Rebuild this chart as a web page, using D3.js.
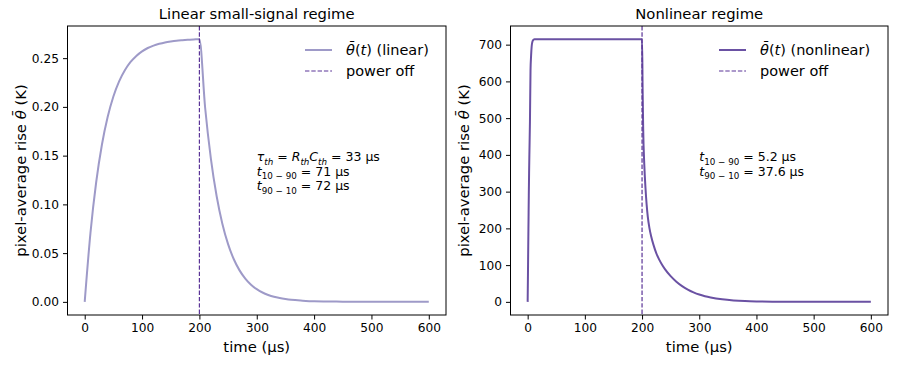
<!DOCTYPE html>
<html>
<head>
<meta charset="utf-8">
<script src="https://cdn.jsdelivr.net/npm/d3@7"></script>
<style>
  body { margin: 0; background: #fff; }
  svg { font-family: "DejaVu Sans", sans-serif; }
</style>
</head>
<body>
<svg id="chart" width="897" height="365"></svg>
<script>
// time samples (us) and pixel-average rise
const timeLin = [0, 10, 20, 30, 40, 50, 60, 70, 80, 90, 100, 110, 120, 130, 140, 150, 160, 170, 180, 190, 200,
                 210, 220, 230, 240, 250, 260, 270, 280, 290, 300, 310, 320, 330, 340, 350, 360, 380, 400, 450, 500, 600];
const thetaLin = [0, 0.0706, 0.1227, 0.1612, 0.1896, 0.2107, 0.2262, 0.2376, 0.2461, 0.2523, 0.2570, 0.2604, 0.2629,
                  0.2647, 0.2661, 0.2671, 0.2679, 0.2684, 0.2688, 0.2691, 0.2695,
                  0.1991, 0.1470, 0.1086, 0.0802, 0.0592, 0.0437, 0.0323, 0.0239, 0.0176, 0.0130, 0.0096, 0.0071,
                  0.0052, 0.0039, 0.0029, 0.0021, 0.0012, 0.0006, 0.0002, 0, 0];

const timeNl = [0, 0.5, 1, 1.5, 2, 2.5, 3, 4, 5, 6, 7, 8, 9, 10, 12, 15, 200,
                201, 202, 204, 206, 208, 210, 213, 216, 220, 225, 230, 235, 240, 250, 260, 270, 280, 290, 300,
                310, 320, 340, 360, 380, 400, 450, 500, 600];
const thetaNl = [0, 71, 150, 220, 290, 350, 400, 490, 630, 670, 695, 706, 711, 713, 715, 715, 715,
                 580, 470, 370, 310, 265, 232, 200, 178, 155, 132, 115, 101, 89, 70, 55, 43, 33.5, 26, 20,
                 15.5, 12, 7, 4, 2.2, 1.2, 0.2, 0, 0];

const powerOff = 200;
const xTicks = [0, 100, 200, 300, 400, 500, 600];
const yTicksLin = [0, 0.05, 0.10, 0.15, 0.20, 0.25];
const yTicksNl = [0, 100, 200, 300, 400, 500, 600, 700];

const svg = d3.select("#chart");
const offColor = "#5b3497";

// text with mathtext-like pieces: [text, style] where style in "", "i", "sub", "subi"
function richText(sel, parts, size) {
    let shifted = 0;
    parts.forEach(([txt, st]) => {
        const sub = st === "sub" || st === "subi";
        const ts = sel.append("tspan").text(txt);
        if (st === "i" || st === "subi") ts.attr("font-style", "italic");
        const target = sub ? size * 0.3 : 0;
        if (target !== shifted) { ts.attr("dy", target - shifted); shifted = target; }
        ts.attr("font-size", sub ? size * 0.7 : size);
    });
}

function panel(cfg) {
    const x = d3.scaleLinear().domain([-30, 630]).range([cfg.left, cfg.right]);
    const ymax = d3.max(cfg.y), pad = ymax * 0.05;
    const y = d3.scaleLinear().domain([-pad, ymax + pad]).range([cfg.bottom, cfg.top]);
    const g = svg.append("g");

    g.append("g").attr("transform", `translate(0,${cfg.bottom})`)
        .call(d3.axisBottom(x).tickValues(xTicks).tickSize(4.5).tickPadding(4))
        .call(a => a.select(".domain").remove())
        .call(a => a.selectAll("text").attr("font-size", 12.2).attr("font-family", "DejaVu Sans").attr("fill", "#000"));
    g.append("g").attr("transform", `translate(${cfg.left},0)`)
        .call(d3.axisLeft(y).tickValues(cfg.yTicks).tickFormat(cfg.fmt).tickSize(4.5).tickPadding(4))
        .call(a => a.select(".domain").remove())
        .call(a => a.selectAll("text").attr("font-size", 12.2).attr("font-family", "DejaVu Sans").attr("fill", "#000"));

    const pts = cfg.t.map((t, i) => [t, cfg.y[i]]);
    g.append("path").datum(pts)
        .attr("fill", "none").attr("stroke", cfg.color).attr("stroke-width", 2)
        .attr("d", d3.line().x(d => x(d[0])).y(d => y(d[1])).curve(d3.curveMonotoneX));

    g.append("line")
        .attr("x1", x(powerOff)).attr("x2", x(powerOff))
        .attr("y1", cfg.top).attr("y2", cfg.bottom)
        .attr("stroke", offColor).attr("stroke-width", 1.2).attr("stroke-dasharray", "4.4,1.9");

    g.append("rect")
        .attr("x", cfg.left).attr("y", cfg.top)
        .attr("width", cfg.right - cfg.left).attr("height", cfg.bottom - cfg.top)
        .attr("fill", "none").attr("stroke", "#000").attr("stroke-width", 1);

    // title and axis labels
    g.append("text").attr("x", (cfg.left + cfg.right) / 2).attr("y", 19)
        .attr("text-anchor", "middle").attr("font-size", 14.8).text(cfg.title);
    g.append("text").attr("x", (cfg.left + cfg.right) / 2).attr("y", 352)
        .attr("text-anchor", "middle").attr("font-size", 14.8).text("time (μs)");
    const yl = g.append("text")
        .attr("transform", `translate(${cfg.ylabelX},${(cfg.top + cfg.bottom) / 2}) rotate(-90)`)
        .attr("text-anchor", "middle");
    richText(yl, [["pixel-average rise ", ""], ["θ̄", "i"], [" (K)", ""]], 14.8);

    // legend
    const lx = cfg.legendX, ly = 50;
    g.append("line").attr("x1", lx).attr("x2", lx + 27).attr("y1", ly).attr("y2", ly)
        .attr("stroke", cfg.color).attr("stroke-width", 2);
    const l1 = g.append("text").attr("x", lx + 41).attr("y", ly + 5);
    richText(l1, [["θ̄", "i"], ["(", ""], ["t", "i"], [") " + cfg.legendName, ""]], 14.5);
    g.append("line").attr("x1", lx).attr("x2", lx + 27).attr("y1", ly + 21).attr("y2", ly + 21)
        .attr("stroke", offColor).attr("stroke-width", 1.2).attr("stroke-dasharray", "4.4,1.9");
    g.append("text").attr("x", lx + 41).attr("y", ly + 26).attr("font-size", 14.5).text("power off");

    // annotation at axes x = 0.5
    cfg.notes.forEach((parts, i) => {
        const t = g.append("text").attr("x", cfg.left + (cfg.right - cfg.left) * 0.5).attr("y", 161 + i * 14.5);
        richText(t, parts, 12.5);
    });
}

panel({
    left: 67.5, right: 446, top: 26, bottom: 315,
    t: timeLin, y: thetaLin, yTicks: yTicksLin, fmt: d3.format(".2f"),
    color: "#9e9ac8", title: "Linear small-signal regime", ylabelX: 26,
    legendX: 305, legendName: "(linear)",
    notes: [
        [["τ", "i"], ["th", "subi"], [" = ", ""], ["R", "i"], ["th", "subi"], ["C", "i"], ["th", "subi"], [" = 33 μs", ""]],
        [["t", "i"], ["10 − 90", "sub"], [" = 71 μs", ""]],
        [["t", "i"], ["90 − 10", "sub"], [" = 72 μs", ""]]
    ]
});

panel({
    left: 510.5, right: 888, top: 26, bottom: 315,
    t: timeNl, y: thetaNl, yTicks: yTicksNl, fmt: d3.format("d"),
    color: "#6a51a3", title: "Nonlinear regime", ylabelX: 469,
    legendX: 719, legendName: "(nonlinear)",
    notes: [
        [["t", "i"], ["10 − 90", "sub"], [" = 5.2 μs", ""]],
        [["t", "i"], ["90 − 10", "sub"], [" = 37.6 μs", ""]]
    ]
});
</script>
</body>
</html>
